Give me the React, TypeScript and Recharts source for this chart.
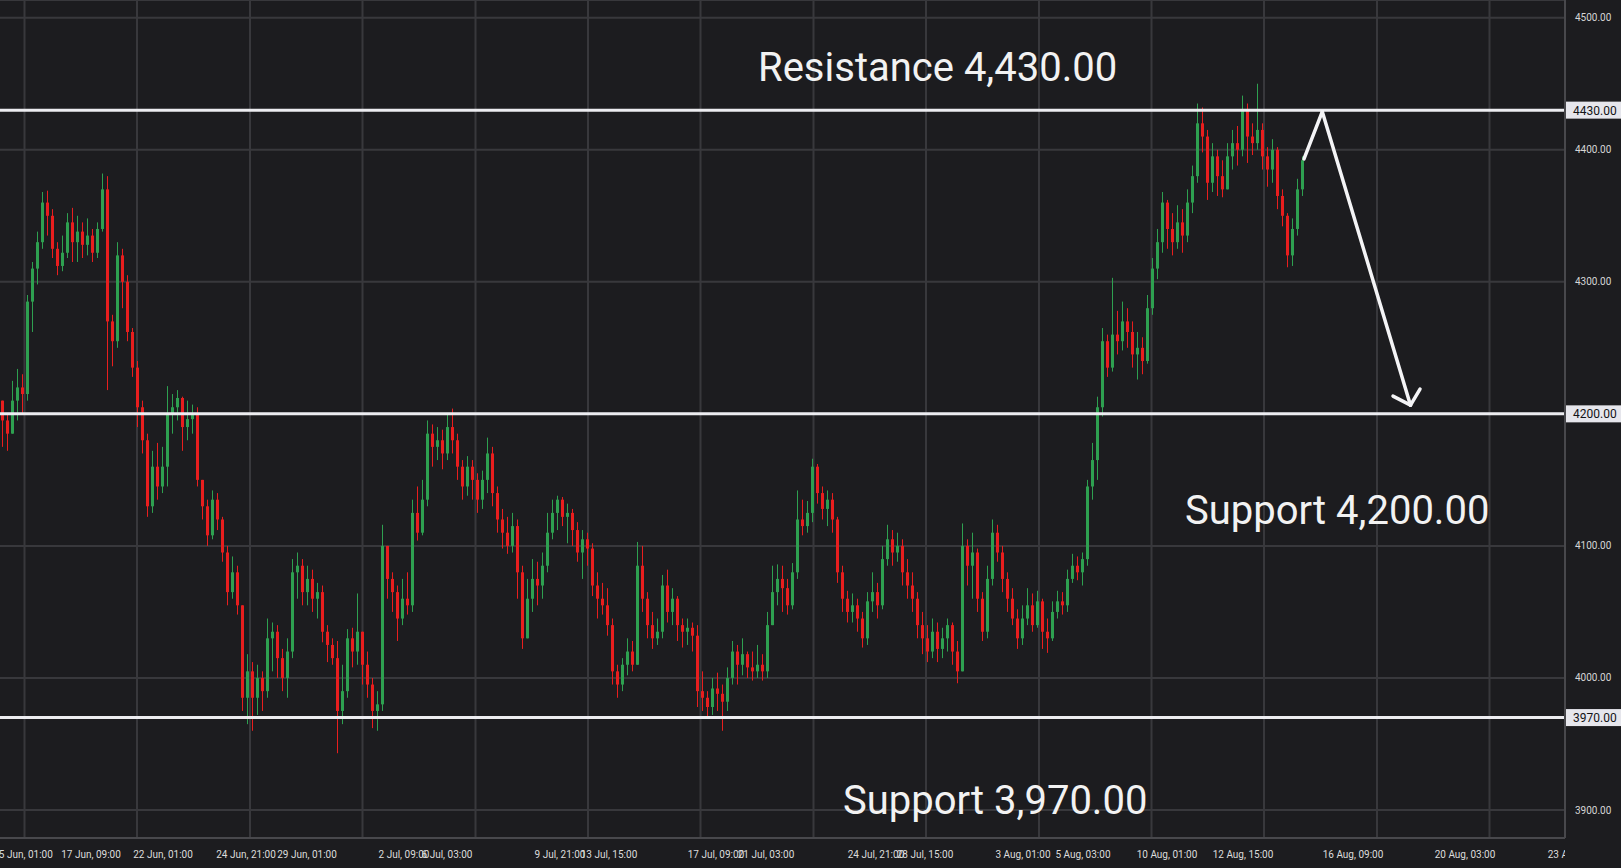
import React from 'react';
import {
    ComposedChart,
    Bar,
    XAxis,
    YAxis,
    CartesianGrid,
    ReferenceLine,
    ReferenceDot,
} from 'recharts';

// candle closes, one per bar (open = previous close)
const firstOpen = 4210;
const closes = [
    4195, 4185, 4210, 4220, 4215, 4285, 4310, 4330, 4360, 4350,
    4325, 4312, 4322, 4345, 4330, 4338, 4328, 4335, 4322, 4340,
    4370, 4270, 4255, 4320, 4300, 4262, 4235, 4205, 4180, 4130,
    4160, 4145, 4160, 4200, 4205, 4212, 4190, 4196, 4200, 4150,
    4130, 4108, 4135, 4120, 4095, 4065, 4080, 4055, 3985, 4005,
    3985, 4000, 3990, 4030, 4035, 4015, 4000, 4020, 4080, 4085,
    4065, 4075, 4060, 4065, 4035, 4025, 4015, 3975, 3990, 4030,
    4020, 4035, 4010, 3995, 3975, 3980, 4100, 4075, 4065, 4045,
    4060, 4055, 4125, 4110, 4135, 4185, 4175, 4180, 4170, 4190,
    4180, 4160, 4145, 4160, 4150, 4135, 4150, 4170, 4140, 4120,
    4110, 4100, 4115, 4080, 4030, 4060, 4075, 4070, 4085, 4110,
    4125, 4135, 4122, 4125, 4112, 4095, 4105, 4098, 4070, 4060,
    4055, 4040, 4005, 3995, 4010, 4020, 4010, 4085, 4060, 4040,
    4030, 4035, 4070, 4050, 4060, 4040, 4035, 4038, 4032, 3990,
    3985, 3978, 3992, 3988, 3982, 4000, 4020, 4010, 4018, 4008,
    4005, 4010, 4005, 4040, 4065, 4075, 4068, 4055, 4080, 4120,
    4115, 4125, 4160, 4140, 4128, 4135, 4120, 4080, 4060, 4050,
    4055, 4045, 4030, 4058, 4065, 4055, 4090, 4105, 4095, 4100,
    4080, 4070, 4060, 4040, 4030, 4020, 4035, 4022, 4030, 4040,
    4020, 4005, 4100, 4085, 4095, 4060, 4035, 4075, 4110, 4095,
    4075, 4060, 4045, 4030, 4045, 4055, 4040, 4058, 4035, 4030,
    4050, 4058, 4055, 4075, 4085, 4080, 4090, 4145, 4165, 4205,
    4255, 4235, 4260, 4255, 4270, 4262, 4245, 4250, 4240, 4280,
    4310, 4330, 4360, 4340, 4330, 4345, 4335, 4360, 4380, 4420,
    4410, 4375, 4395, 4380, 4370, 4395, 4405, 4400, 4430, 4410,
    4405, 4415, 4395, 4385, 4400, 4365, 4350, 4320, 4340, 4370, 4392,
];

const highs = [
    4205, 4200, 4225, 4234, 4230, 4290, 4315, 4338, 4368, 4369,
    4355, 4330, 4335, 4352, 4356, 4350, 4345, 4348, 4340, 4345,
    4382, 4380, 4275, 4330, 4325, 4305, 4265, 4240, 4210, 4185,
    4172, 4178, 4175, 4221, 4215, 4218, 4213, 4210, 4207, 4205,
    4150, 4135, 4142, 4140, 4122, 4100, 4092, 4085, 4055, 4018,
    4012, 4010, 4005, 4045, 4042, 4040, 4022, 4030, 4090, 4095,
    4090, 4085, 4082, 4072, 4070, 4040, 4030, 4028, 4010, 4037,
    4038, 4064, 4035, 4020, 4000, 3990, 4116, 4100, 4080, 4070,
    4075, 4080, 4135, 4145, 4150, 4195, 4192, 4190, 4188, 4200,
    4204, 4185, 4165, 4168, 4165, 4155, 4157, 4182, 4175, 4145,
    4128, 4122, 4125, 4120, 4085, 4075, 4090, 4088, 4095, 4125,
    4135, 4138, 4137, 4132, 4128, 4118, 4112, 4110, 4102, 4080,
    4072, 4068, 4045, 4010, 4015, 4030, 4028, 4103, 4100, 4065,
    4050, 4045, 4078, 4082, 4068, 4062, 4045, 4045, 4042, 4040,
    4005, 3990, 4000, 4004, 3995, 4008, 4028, 4025, 4030, 4020,
    4020, 4025, 4018, 4050, 4085, 4086, 4085, 4075, 4087, 4142,
    4135, 4134, 4166, 4162, 4145, 4142, 4140, 4122, 4085, 4066,
    4064, 4060, 4050, 4065, 4080, 4072, 4100, 4116, 4112, 4110,
    4105, 4090, 4080, 4065, 4050, 4040, 4045, 4042, 4038, 4045,
    4042, 4028, 4117, 4105, 4110, 4098, 4065, 4085, 4120, 4116,
    4100, 4080, 4068, 4052, 4055, 4068, 4064, 4066, 4060, 4045,
    4058, 4066, 4065, 4082, 4094, 4092, 4095, 4150, 4178, 4213,
    4265, 4260, 4303, 4278, 4285, 4280, 4270, 4262, 4258, 4290,
    4318, 4340, 4368, 4362, 4352, 4358, 4355, 4370, 4388, 4435,
    4432, 4415, 4405, 4400, 4392, 4405, 4415, 4418, 4441, 4435,
    4420, 4450, 4420, 4402, 4408, 4402, 4370, 4352, 4348, 4378, 4395,
];

const lows = [
    4175, 4172, 4185, 4195, 4200, 4210, 4262, 4298, 4325, 4335,
    4318, 4305, 4308, 4318, 4315, 4315, 4318, 4320, 4315, 4318,
    4338, 4218, 4236, 4250, 4280, 4255, 4228, 4190, 4170, 4122,
    4125, 4135, 4140, 4145, 4185, 4195, 4172, 4180, 4185, 4145,
    4120, 4100, 4105, 4112, 4088, 4055, 4060, 4048, 3975, 3965,
    3960, 3972, 3975, 3985, 4005, 4000, 3990, 3985, 4015, 4060,
    4055, 4055, 4050, 4045, 4027, 4012, 4010, 3943, 3965, 3985,
    4008, 4010, 3995, 3985, 3962, 3960, 3975, 4060, 4050, 4028,
    4040, 4048, 4050, 4104, 4108, 4130, 4160, 4165, 4158, 4165,
    4170, 4150, 4135, 4138, 4135, 4125, 4128, 4140, 4130, 4110,
    4098, 4094, 4095, 4060, 4022, 4030, 4050, 4055, 4060, 4080,
    4105, 4112, 4115, 4102, 4100, 4088, 4075, 4085, 4062, 4045,
    4048, 4032, 3995, 3985, 3990, 4002, 4005, 4010, 4050, 4030,
    4022, 4025, 4030, 4042, 4040, 4028, 4023, 4025, 4020, 3978,
    3975, 3970, 3972, 3975, 3960, 3975, 3995, 3995, 4002, 4000,
    3998, 4000, 3998, 4000, 4040, 4055, 4050, 4048, 4052, 4075,
    4108, 4110, 4118, 4132, 4120, 4115, 4110, 4072, 4050, 4042,
    4042, 4035, 4023, 4025, 4050, 4045, 4052, 4085, 4085, 4088,
    4070, 4060, 4050, 4030, 4018, 4012, 4015, 4012, 4015, 4020,
    4010, 3996, 4010, 4070, 4060, 4050, 4028, 4030, 4070, 4088,
    4065, 4050, 4040, 4022, 4025, 4040, 4035, 4038, 4022, 4019,
    4028, 4045, 4048, 4050, 4072, 4074, 4070, 4085, 4135, 4150,
    4198, 4228, 4232, 4245, 4248, 4250, 4235, 4226, 4230, 4238,
    4275, 4302, 4322, 4325, 4320, 4325, 4322, 4330, 4352, 4375,
    4398, 4362, 4368, 4365, 4364, 4370, 4385, 4388, 4395, 4390,
    4396, 4400, 4385, 4372, 4375, 4355, 4342, 4311, 4312, 4335, 4365,
];

// bottom axis labels (bar index, text)
const timeTicks = [4.1, 17.7, 32.1, 48.7, 60.9, 80.3, 88.9, 111.5, 121.3, 142.7, 152.7, 174.7, 184.5, 204.1, 216.1, 232.9, 248.1, 270.1, 292.5, 315.1];
const timeLabels = [
    '15 Jun, 01:00', '17 Jun, 09:00', '22 Jun, 01:00', '24 Jun, 21:00', '29 Jun, 01:00',
    '2 Jul, 09:00', '6 Jul, 03:00', '9 Jul, 21:00', '13 Jul, 15:00', '17 Jul, 09:00',
    '21 Jul, 03:00', '24 Jul, 21:00', '28 Jul, 15:00', '3 Aug, 01:00', '5 Aug, 03:00',
    '10 Aug, 01:00', '12 Aug, 15:00', '16 Aug, 09:00', '20 Aug, 03:00', '23 Aug, 21:00',
];
const gridIdx = [4.4, 26.9, 49.5, 72.0, 94.6, 117.1, 139.6, 162.2, 184.7, 207.3, 229.8, 252.3, 274.9, 297.4];
const priceTicks = [3900, 4000, 4100, 4200, 4300, 4400, 4500];

const levels = [4430, 3970, 4200];

// hand-drawn arrow (bar index, price)
const arrowSegments = [
    [{ x: 260.3, y: 4393 }, { x: 263.96, y: 4428.8 }],
    [{ x: 263.96, y: 4428.8 }, { x: 281.6, y: 4206.6 }],
    [{ x: 278.1, y: 4213.4 }, { x: 281.6, y: 4206.6 }],
    [{ x: 283.5, y: 4218.8 }, { x: 281.6, y: 4206.6 }],
];

const notes = [
    { x: 151.1, y: 4452, text: 'Resistance 4,430.00' },
    { x: 236.5, y: 4116.4, text: 'Support 4,200.00' },
    { x: 168.1, y: 3896.8, text: 'Support 3,970.00' },
];

const X_DOMAIN: [number, number] = [-0.5, 312.5];
const Y_DOMAIN: [number, number] = [3878.8, 4513.4];

const BG = '#1c1c1f';
const GRID = '#38383c';
const AXIS = '#48484c';
const UP = '#2ea050';
const DOWN = '#e81e1e';
const FONT = 'Roboto, sans-serif';

const candles = closes.map((c, i) => {
    const o = i === 0 ? firstOpen : closes[i - 1];
    const h = Math.max(highs[i], o, c);
    const l = Math.min(lows[i], o, c);
    return { i, o, h, l, c, range: [l, h] };
});

const Candle = (props: any) => {
    const { x, y, width, height, payload } = props;
    if (!payload) return null;
    const top = Math.min(y, y + height);
    const h = Math.abs(height);
    const span = payload.h - payload.l || 1;
    const toPx = (v: number) => top + ((payload.h - v) / span) * h;
    const oy = toPx(payload.o);
    const cy = toPx(payload.c);
    const color = payload.c >= payload.o ? UP : DOWN;
    const cx = x + width / 2;
    return (
        <g>
            <line x1={cx} x2={cx} y1={top} y2={top + h} stroke={color} strokeWidth={1} />
            <rect x={cx - 1.5} y={Math.min(oy, cy)} width={3} height={Math.max(1, Math.abs(cy - oy))} fill={color} />
        </g>
    );
};

const TimeTick = (props: any) => {
    const { x, payload } = props;
    const k = timeTicks.indexOf(payload.value);
    return (
        <svg x={0} y={838} width={1565} height={30} overflow="hidden">
            <text x={x} y={19.5} textAnchor="middle" fill="#dcdcdc" fontSize={10} fontFamily={FONT}>
                {k >= 0 ? timeLabels[k] : ''}
            </text>
        </svg>
    );
};

const PriceTick = (props: any) => {
    const { y, payload } = props;
    // a level tag already covers this price
    if (levels.includes(payload.value)) return null;
    return (
        <text x={1575} y={y + 3.5} fill="#d6d6d6" fontSize={10} fontFamily={FONT}>
            {payload.value.toFixed(2)}
        </text>
    );
};

const LevelTag = (props: any) => {
    const { viewBox, value } = props;
    if (!viewBox) return null;
    const x = viewBox.x + viewBox.width + 1;
    return (
        <g>
            <rect x={x} y={viewBox.y - 8.5} width={56} height={17} fill="#e6e6ec" />
            <text x={x + 7} y={viewBox.y + 4.5} fill="#131316" fontSize={12} fontFamily={FONT}>
                {value}
            </text>
        </g>
    );
};

export default function App() {
    return (
        <div style={{ position: 'absolute', left: 0, top: 0, width: 1621, height: 868, background: BG, overflow: 'hidden' }}>
            <ComposedChart
                width={1621}
                height={868}
                data={candles}
                margin={{ top: 0, right: 0, bottom: 0, left: 0 }}
            >
                <CartesianGrid
                    stroke={GRID}
                    strokeWidth={2}
                    verticalCoordinatesGenerator={({ xAxis, offset }: any) =>
                        gridIdx.map((v) =>
                            xAxis && typeof xAxis.scale === 'function'
                                ? xAxis.scale(v)
                                : offset.left + ((v - X_DOMAIN[0]) / (X_DOMAIN[1] - X_DOMAIN[0])) * offset.width
                        )
                    }
                />
                <XAxis
                    type="number"
                    dataKey="i"
                    domain={X_DOMAIN}
                    allowDataOverflow
                    ticks={timeTicks}
                    interval={0}
                    tick={<TimeTick />}
                    tickLine={false}
                    axisLine={{ stroke: AXIS, strokeWidth: 2 }}
                    height={30}
                />
                <YAxis
                    orientation="right"
                    domain={Y_DOMAIN}
                    allowDataOverflow
                    ticks={priceTicks}
                    interval={0}
                    tick={<PriceTick />}
                    tickLine={false}
                    axisLine={{ stroke: AXIS, strokeWidth: 2 }}
                    width={56}
                />
                <Bar dataKey="range" barSize={3} shape={<Candle />} isAnimationActive={false} />
                {levels.map((lv) => (
                    <ReferenceLine
                        key={lv}
                        y={lv}
                        stroke="#ececf0"
                        strokeWidth={3}
                        label={<LevelTag value={lv.toFixed(2)} />}
                    />
                ))}
                {arrowSegments.map((seg, k) => (
                    <ReferenceLine
                        key={'a' + k}
                        segment={seg}
                        stroke="#f4f4f6"
                        strokeWidth={3.5}
                        strokeLinecap="round"
                        ifOverflow="visible"
                    />
                ))}
                {notes.map((n) => (
                    <ReferenceDot
                        key={n.text}
                        x={n.x}
                        y={n.y}
                        r={0}
                        ifOverflow="visible"
                        shape={(p: any) => (
                            <text x={p.cx} y={p.cy} fill="#f2f2f2" fontSize={40} fontFamily={FONT}>
                                {n.text}
                            </text>
                        )}
                    />
                ))}
            </ComposedChart>
        </div>
    );
}
